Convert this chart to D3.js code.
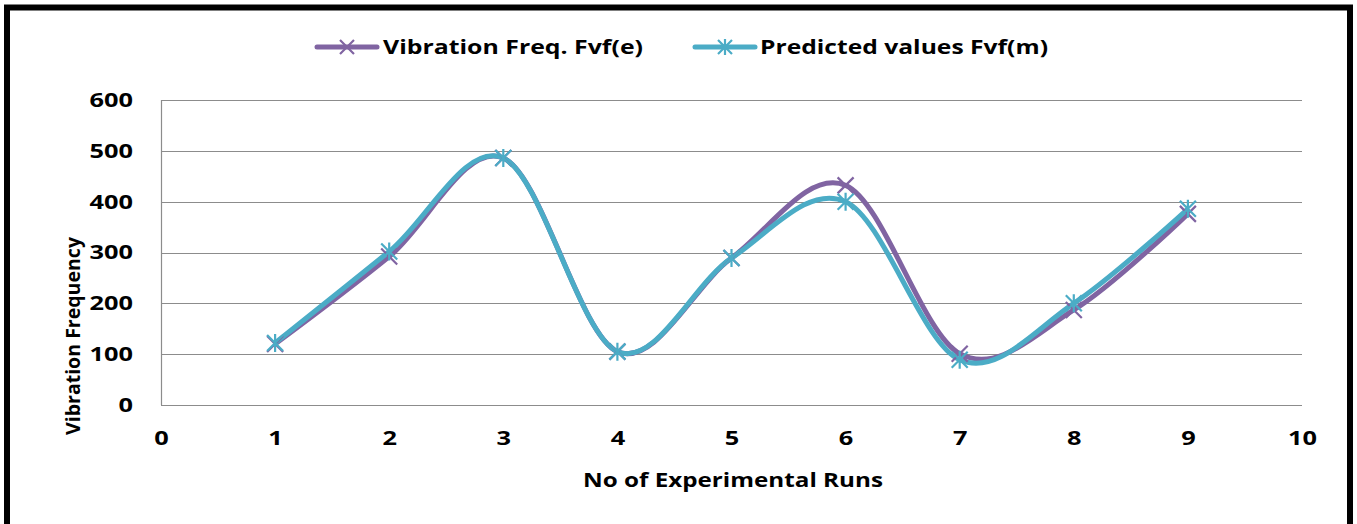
<!DOCTYPE html>
<html>
<head>
<meta charset="utf-8">
<script src="https://cdn.jsdelivr.net/npm/d3@7"></script>
<style>
  body { margin: 0; background: #fff; }
  svg { display: block; font-family: "Open Sans", Lato, sans-serif; font-weight: bold; }
</style>
</head>
<body>
<svg id="chart"></svg>
<script>
// runs on the x axis
const runs = [1, 2, 3, 4, 5, 6, 7, 8, 9];
// experimental vibration frequency Fvf(e)
const freqExp = [120, 292, 486, 105, 289, 432, 101, 187, 376];
// predicted values Fvf(m)
const freqPred = [122, 302, 486, 105, 289, 400, 89, 200, 386];
const xTicks = [0, 1, 2, 3, 4, 5, 6, 7, 8, 9, 10];
const yTicks = [0, 100, 200, 300, 400, 500, 600];

const width = 1357, height = 524;
const margin = {top: 100, right: 55, bottom: 119, left: 161};

const svg = d3.select("#chart")
    .attr("width", width)
    .attr("height", height);

// outer frame
svg.append("rect")
    .attr("x", 7).attr("y", 7.5)
    .attr("width", 1343).attr("height", 540)
    .attr("fill", "#fff")
    .attr("stroke", "#000")
    .attr("stroke-width", 6);

const xScale = d3.scaleLinear()
    .domain([0, 10])
    .range([margin.left, width - margin.right]);

const yScale = d3.scaleLinear()
    .domain([0, 600])
    .range([height - margin.bottom, margin.top]);

// grid
svg.append("g")
    .selectAll("line")
    .data(yTicks)
    .join("line")
    .attr("x1", xScale(0)).attr("x2", xScale(10))
    .attr("y1", d => Math.round(yScale(d)) + 0.5)
    .attr("y2", d => Math.round(yScale(d)) + 0.5)
    .attr("stroke", "#8c8c8c")
    .attr("stroke-width", 1.2);

// y axis line
svg.append("line")
    .attr("x1", xScale(0) + 0.5).attr("x2", xScale(0) + 0.5)
    .attr("y1", yScale(600)).attr("y2", yScale(0))
    .attr("stroke", "#8c8c8c")
    .attr("stroke-width", 1.2);

function styleTicks(sel) {
    sel.selectAll("text")
        .attr("font-size", 20)
        .attr("font-family", "\"Open Sans\", sans-serif")
        .attr("font-weight", "bold")
        .attr("fill", "#000")
        .attr("lengthAdjust", "spacingAndGlyphs")
        .attr("textLength", function() { return this.textContent.length * 14.5; });
}

const yAxis = svg.append("g")
    .attr("transform", `translate(${xScale(0)},0)`)
    .call(d3.axisLeft(yScale).tickValues(yTicks).tickSize(0).tickPadding(28));
yAxis.select(".domain").remove();
styleTicks(yAxis);

const xAxis = svg.append("g")
    .attr("transform", `translate(0,${yScale(0)})`)
    .call(d3.axisBottom(xScale).tickValues(xTicks).tickSize(0).tickPadding(26));
xAxis.select(".domain").remove();
styleTicks(xAxis);

// axis titles
svg.append("text")
    .attr("x", 733).attr("y", 487)
    .attr("text-anchor", "middle")
    .attr("font-size", 20)
    .attr("lengthAdjust", "spacingAndGlyphs")
    .attr("textLength", 300)
    .text("No of Experimental Runs");

svg.append("text")
    .attr("transform", "translate(80,336) rotate(-90)")
    .attr("text-anchor", "middle")
    .attr("font-size", 20)
    .attr("lengthAdjust", "spacingAndGlyphs")
    .attr("textLength", 198)
    .text("Vibration Frequency");

const line = d3.line()
    .x((d, i) => xScale(runs[i]))
    .y(d => yScale(d))
    .curve(d3.curveCardinal.tension(0));

const series = [
    {name: "Vibration Freq. Fvf(e)", values: freqExp, color: "#8064a2", marker: "x"},
    {name: "Predicted values Fvf(m)", values: freqPred, color: "#4bacc6", marker: "star"}
];

function drawMarker(g, type, color, r) {
    const p = d3.path();
    p.moveTo(-r, -r); p.lineTo(r, r);
    p.moveTo(-r, r); p.lineTo(r, -r);
    if (type === "star") { p.moveTo(0, -r - 1); p.lineTo(0, r + 1); }
    g.append("path")
        .attr("d", p.toString())
        .attr("stroke", color)
        .attr("stroke-width", 2.2)
        .attr("fill", "none");
}

series.forEach(s => {
    svg.append("path")
        .datum(s.values)
        .attr("d", line)
        .attr("fill", "none")
        .attr("stroke", s.color)
        .attr("stroke-width", 5)
        .attr("stroke-linejoin", "round");
});

series.forEach(s => {
    s.values.forEach((v, i) => {
        const g = svg.append("g")
            .attr("transform", `translate(${xScale(runs[i])},${yScale(v)})`);
        drawMarker(g, s.marker, s.color, 8);
    });
});

// legend
const legendPos = [{x: 317, tx: 383, w: 260}, {x: 695, tx: 760, w: 288}];
series.forEach((s, i) => {
    const lg = svg.append("g").attr("transform", `translate(${legendPos[i].x},47)`);
    lg.append("line")
        .attr("x1", 0).attr("x2", 60)
        .attr("stroke", s.color)
        .attr("stroke-width", 5)
        .attr("stroke-linecap", "round");
    const m = lg.append("g").attr("transform", "translate(30,0)");
    drawMarker(m, s.marker, s.color, 7);
    svg.append("text")
        .attr("x", legendPos[i].tx).attr("y", 54)
        .attr("font-size", 20)
        .attr("lengthAdjust", "spacingAndGlyphs")
        .attr("textLength", legendPos[i].w)
        .text(s.name);
});
</script>
</body>
</html>
